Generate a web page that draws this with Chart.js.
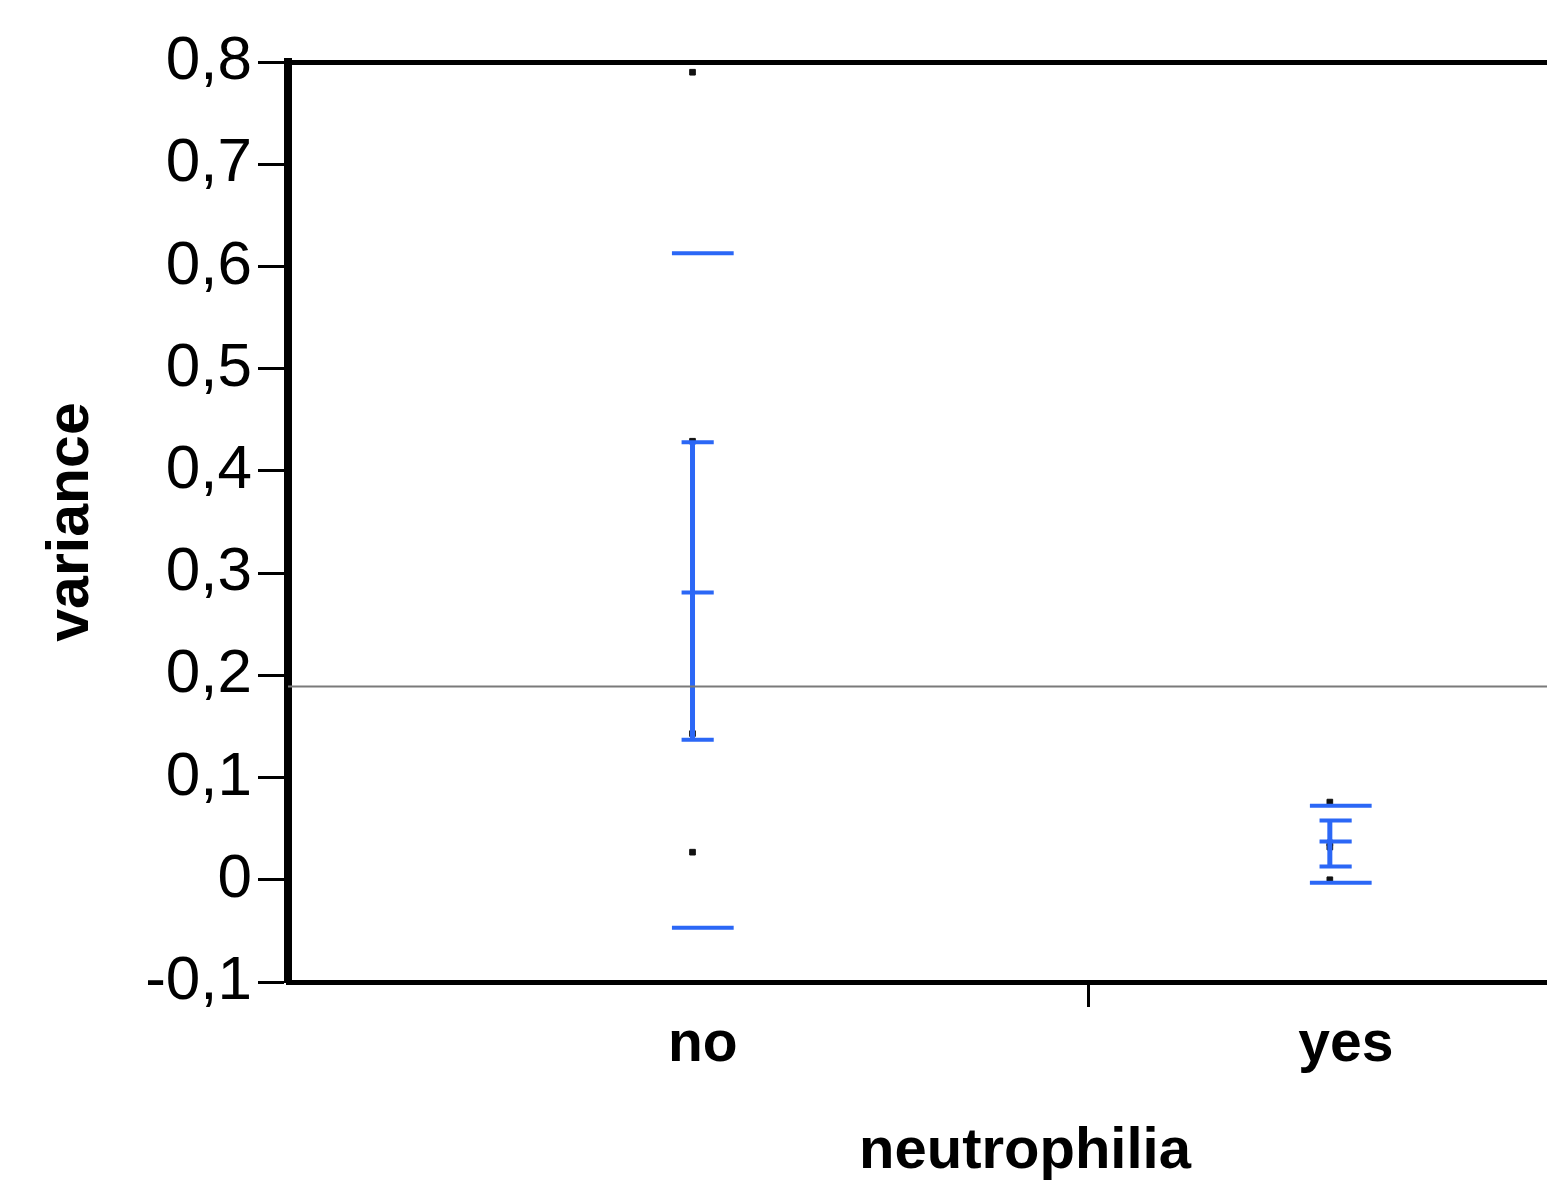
<!DOCTYPE html>
<html lang="en">

<head>
    <meta charset="UTF-8">
    <title>variance by neutrophilia</title>
    <script src="https://cdn.jsdelivr.net/npm/chart.js"></script>
    <style>
        html, body { margin: 0; padding: 0; background: #fff; overflow: hidden; }
        #wrap { width: 1780px; height: 1187px; }
    </style>
</head>

<body>
    <div id="wrap">
        <canvas id="varChart"></canvas>
    </div>

    <script>
        // categories and read-off values
        var categories = ['no', 'yes'];
        var pointsNo = [0.790, 0.429, 0.143, 0.027];
        var pointsYes = [0.076, 0.036, 0.032, 0.0];
        var means = [0.281, 0.0375];
        var ciLow = [0.137, 0.013];
        var ciHigh = [0.428, 0.058];
        var sdLow = [-0.047, -0.003];
        var sdHigh = [0.613, 0.0725];
        var grandMean = 0.189;
        var yTicks = [-0.1, 0, 0.1, 0.2, 0.3, 0.4, 0.5, 0.6, 0.7, 0.8];

        var blue = '#2B67F6';
        var xMin = -0.645, xMax = 1.647, divider = 0.6;

        function pts(vals, x) {
            return vals.map(function (v) { return { x: x, y: v }; });
        }
        // horizontal segments separated by gaps
        function hsegs(vals, half, shift) {
            var out = [];
            vals.forEach(function (v, i) {
                var c = i + shift[i];
                out.push({ x: c - half, y: v }, { x: c + half, y: v }, { x: c, y: null });
            });
            return out;
        }
        function vsegs(lo, hi, shift) {
            var out = [];
            lo.forEach(function (v, i) {
                out.push({ x: i + shift[i], y: v }, { x: i + shift[i], y: hi[i] }, { x: i + shift[i], y: null });
            });
            return out;
        }

        var ctx = document.getElementById('varChart').getContext('2d');
        var chart = new Chart(ctx, {
            type: 'line',
            data: {
                datasets: [
                    {
                        label: 'grand mean',
                        data: [{ x: xMin, y: grandMean }, { x: xMax, y: grandMean }],
                        borderColor: '#7a7a7a', borderWidth: 2, pointRadius: 0
                    },
                    {
                        label: 'std dev',
                        data: hsegs(sdHigh, 0.048, [0, -0.008]).concat(hsegs(sdLow, 0.048, [0, -0.008])),
                        borderColor: blue, borderWidth: 4, pointRadius: 0, spanGaps: false
                    },
                    {
                        label: 'ci bar',
                        data: vsegs(ciLow, ciHigh, [-0.016, -0.025]),
                        borderColor: blue, borderWidth: 5, pointRadius: 0, spanGaps: false
                    },
                    {
                        label: 'ci caps',
                        data: hsegs(ciHigh, 0.025, [-0.008, -0.016])
                            .concat(hsegs(ciLow, 0.025, [-0.008, -0.016]))
                            .concat(hsegs(means, 0.025, [-0.008, -0.016])),
                        borderColor: blue, borderWidth: 4, pointRadius: 0, spanGaps: false
                    },
                    {
                        label: 'points',
                        type: 'scatter',
                        data: pts(pointsNo, 0 - 0.016).concat(pts(pointsYes, 1 - 0.025)),
                        backgroundColor: '#111', borderColor: '#111', borderWidth: 1,
                        pointStyle: 'rect', pointRadius: 4
                    }
                ]
            },
            options: {
                responsive: true,
                maintainAspectRatio: false,
                animation: false,
                layout: { padding: { top: 62, right: 18, left: 0, bottom: 0 } },
                plugins: { legend: { display: false }, tooltip: { enabled: false } },
                scales: {
                    x: {
                        type: 'linear',
                        min: xMin, max: xMax,
                        afterBuildTicks: function (scale) {
                            scale.ticks = [{ value: 0 }, { value: divider }, { value: 1 }];
                        },
                        afterFit: function (scale) { scale.height = 205; },
                        ticks: {
                            autoSkip: false,
                            maxRotation: 0,
                            padding: 4,
                            color: '#000',
                            font: { family: 'Liberation Sans', size: 57, weight: 'bold' },
                            callback: function (v) {
                                if (v === 0) return categories[0];
                                if (v === 1) return categories[1];
                                return '';
                            }
                        },
                        grid: {
                            drawOnChartArea: false,
                            tickLength: 25,
                            tickWidth: 3,
                            tickColor: function (c) {
                                return c.tick && c.tick.value === divider ? '#000' : 'rgba(0,0,0,0)';
                            }
                        },
                        border: { color: '#000', width: 5 },
                        title: {
                            display: true,
                            text: 'neutrophilia',
                            color: '#000',
                            font: { family: 'Liberation Sans', size: 58, weight: 'bold' },
                            padding: { top: 16, bottom: 0 }
                        }
                    },
                    x2: {
                        type: 'linear',
                        position: 'top',
                        min: xMin, max: xMax,
                        afterFit: function (scale) { scale.height = 0; },
                        ticks: { display: false },
                        grid: { display: false },
                        border: { color: '#000', width: 5 }
                    },
                    y: {
                        min: -0.1, max: 0.8,
                        afterBuildTicks: function (scale) {
                            scale.ticks = yTicks.map(function (v) { return { value: v }; });
                        },
                        afterFit: function (scale) { scale.width = 288; },
                        ticks: {
                            padding: 6,
                            color: '#000',
                            font: { family: 'Liberation Sans', size: 62 },
                            callback: function (v) {
                                var r = Math.round(v * 10) / 10;
                                if (r === 0) return '0';
                                return r.toFixed(1).replace('.', ',');
                            }
                        },
                        grid: {
                            drawOnChartArea: false,
                            tickLength: 30,
                            tickWidth: 3,
                            tickColor: '#000'
                        },
                        border: { color: '#000', width: 8 },
                        title: {
                            display: true,
                            text: 'variance',
                            color: '#000',
                            font: { family: 'Liberation Sans', size: 59, weight: 'bold' },
                            padding: { top: 36, bottom: 0 }
                        }
                    }
                }
            }
        });
    </script>
</body>

</html>
